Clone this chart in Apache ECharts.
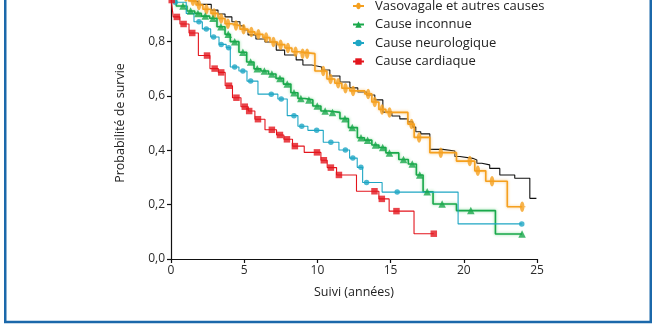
<!DOCTYPE html>
<html>
<head>
<meta charset="utf-8">
<script src="https://cdn.jsdelivr.net/npm/echarts@6/dist/echarts.min.js"></script>
<style>
  html, body { margin: 0; padding: 0; background: #fff; overflow: hidden; }
  body { width: 657px; height: 336px; position: relative; }
  /* the plot runs up past the top edge, so the canvas starts above the page */
  #chart { position: absolute; left: 0; top: -20px; width: 657px; height: 356px; }
</style>
</head>
<body>
<div id="chart"></div>
<script>
// Kaplan-Meier survival by syncope cause: [time in years, survival after the step]
const totalSteps = [[0,1],[0.07,0.985],[0.48,0.971],[0.96,0.956],[1.5,0.947],[1.84,0.936],[2.75,0.915],[3.21,0.901],[3.69,0.89],[4.16,0.872],[4.71,0.857],[4.98,0.842],[5.26,0.824],[5.8,0.809],[6.42,0.798],[7.19,0.768],[7.76,0.75],[8.55,0.732],[9.01,0.713],[9.62,0.706],[10.29,0.695],[10.85,0.673],[11.54,0.651],[12.22,0.629],[12.76,0.614],[13.36,0.603],[13.92,0.585],[14.47,0.54],[15.09,0.526],[15.63,0.515],[16.18,0.504],[16.52,0.485],[16.72,0.468],[17.06,0.46],[17.68,0.403],[18.57,0.397],[19.39,0.377],[19.73,0.37],[20.61,0.364],[20.89,0.352],[21.23,0.346],[21.77,0.333],[22.46,0.309],[23.48,0.297],[24.51,0.223],[24.96,0.223]];

const vasoSteps = [[0,1],[0.25,0.985],[0.7,0.965],[1.2,0.949],[1.71,0.934],[2.18,0.918],[2.73,0.903],[3.21,0.884],[3.69,0.865],[4.16,0.858],[4.71,0.845],[5.26,0.835],[5.73,0.826],[6.28,0.814],[6.76,0.798],[7.27,0.788],[7.78,0.776],[8.26,0.762],[8.74,0.755],[9.83,0.691],[10.65,0.662],[11.19,0.646],[11.67,0.628],[12.22,0.618],[13.24,0.607],[13.72,0.577],[14.2,0.55],[14.68,0.539],[16.18,0.496],[16.61,0.447],[17.68,0.391],[19.5,0.36],[20.75,0.324],[21.5,0.286],[22.97,0.192],[23.99,0.192]];
const vasoCensored = [1.02,1.5,1.91,2.42,2.94,3.43,3.89,4.44,4.96,5.49,5.97,6.5,7.0,7.49,7.99,8.51,8.99,9.3,10.4,10.9,11.42,11.92,12.44,13.47,13.92,14.42,14.93,16.43,16.95,18.43,20.41,20.96,21.93,23.99];

const unknownSteps = [[0,1],[0.36,0.93],[1.09,0.912],[1.62,0.903],[2.07,0.893],[2.64,0.885],[3.14,0.854],[3.69,0.826],[4.05,0.799],[4.64,0.76],[5.17,0.724],[5.67,0.699],[6.14,0.691],[6.66,0.68],[7.17,0.664],[7.68,0.643],[8.19,0.611],[8.67,0.59],[9.15,0.585],[9.69,0.5625],[10.24,0.544],[10.78,0.539],[11.54,0.516],[12.12,0.483],[12.73,0.446],[13.21,0.437],[13.72,0.419],[14.2,0.41],[14.68,0.39],[15.56,0.366],[16.21,0.349],[16.76,0.309],[17.22,0.247],[17.9,0.202],[19.5,0.178],[22.16,0.092],[23.98,0.092]];
const unknownCensored = [0.82,1.34,1.84,2.34,2.87,3.41,3.91,4.35,4.91,5.44,5.89,6.38,6.89,7.44,7.94,8.4,8.87,9.42,9.99,10.53,11.03,11.88,12.38,12.98,13.43,13.97,14.46,14.92,15.88,16.48,16.99,17.5,18.52,20.48,23.98];

const neuroSteps = [[0,1],[0.14,0.944],[1.04,0.903],[1.57,0.872],[2.14,0.846],[2.71,0.816],[3.28,0.789],[3.77,0.777],[4.05,0.706],[4.64,0.691],[5.19,0.654],[5.94,0.606],[7.3,0.588],[7.94,0.527],[8.67,0.488],[9.35,0.473],[10.4,0.429],[11.47,0.401],[12.2,0.371],[12.72,0.337],[13.09,0.281],[14.42,0.246],[19.61,0.129],[23.96,0.129]];
const neuroCensored = [0.29,1.91,2.41,2.91,3.43,3.94,4.35,4.91,5.44,6.85,7.53,8.4,8.93,9.95,10.92,11.91,12.42,12.97,13.36,15.45,23.96];

const cardiacSteps = [[0,1],[0.02,0.952],[0.15,0.89],[0.61,0.864],[1.23,0.831],[1.87,0.748],[2.66,0.7],[3.23,0.686],[3.7,0.637],[4.2,0.593],[4.78,0.56],[5.28,0.544],[5.73,0.514],[6.42,0.475],[7.21,0.456],[7.71,0.44],[8.3,0.415],[9.1,0.392],[10.24,0.363],[10.67,0.336],[11.31,0.309],[12.67,0.249],[14.2,0.221],[14.9,0.176],[16.6,0.093],[17.95,0.093]];
const cardiacCensored = [0.05,0.4,0.86,1.45,2.46,2.98,3.43,3.96,4.47,5.04,5.34,5.94,6.89,7.44,7.92,8.46,9.97,10.44,10.92,11.47,13.9,14.4,15.4,17.95];

const seriesNames = ['Vasovagale et autres causes', 'Cause inconnue', 'Cause neurologique', 'Cause cardiaque'];
const xTicks = [0, 5, 10, 15, 20, 25];
const yTicks = [0, 0.2, 0.4, 0.6, 0.8, 1.0];

// survival level of a step curve at time t
function levelAt(steps, t) {
  let v = steps[0][1];
  for (const [s, val] of steps) { if (s <= t) v = val; else break; }
  return v;
}
const marks = (steps, times) => times.map(t => [t, levelAt(steps, t)]);

// upright oval crossed by a short horizontal bar
const ovalCross = 'path://M5,0 C9.6,0 9.6,20 5,20 C0.4,20 0.4,0 5,0 Z M0,9.2 L10,9.2 L10,10.8 L0,10.8 Z';

function kmLine(name, steps, color, width, symbol, size, glow) {
  return {
    name, type: 'line', step: 'end', data: steps,
    showSymbol: false, symbol, symbolSize: size,
    itemStyle: { color },
    lineStyle: glow
      ? { color, width, shadowColor: glow, shadowBlur: 3 }
      : { color, width },
    emphasis: { disabled: true }, silent: true, z: 2
  };
}
function kmMarks(name, steps, times, color, symbol, size) {
  return {
    name: name + ' (censure)', type: 'scatter', data: marks(steps, times),
    symbol, symbolSize: size, itemStyle: { color },
    emphasis: { disabled: true }, silent: true, z: 3
  };
}

const labelFont = { fontFamily: 'Open Sans', fontSize: 12, color: '#2a2a2a' };

const option = {
  animation: false,
  backgroundColor: '#fff',
  grid: { left: 171, right: 120, top: 7, bottom: 77, containLabel: false },
  xAxis: {
    type: 'value', min: 0, max: 25, interval: 5,
    name: 'Suivi (années)', nameLocation: 'middle', nameGap: 27,
    nameTextStyle: { fontFamily: 'Open Sans', fontSize: 12.5, color: '#222' },
    axisLine: { lineStyle: { color: '#111', width: 1.2 } },
    axisTick: { length: 4, lineStyle: { color: '#111', width: 1.2 } },
    axisLabel: Object.assign({ margin: 6, formatter: v => xTicks.includes(v) ? String(v) : '' }, labelFont),
    splitLine: { show: false }
  },
  yAxis: {
    type: 'value', min: 0, max: 1, interval: 0.2,
    name: 'Probabilité de survie', nameLocation: 'middle', nameGap: 44, nameRotate: 90,
    nameTextStyle: { fontFamily: 'Open Sans', fontSize: 12.5, color: '#222' },
    axisLine: { lineStyle: { color: '#111', width: 1.2 } },
    axisTick: { length: 4, lineStyle: { color: '#111', width: 1.2 } },
    axisLabel: Object.assign({ margin: 6, formatter: v => yTicks.some(t => Math.abs(t - v) < 1e-9) ? v.toFixed(1).replace('.', ',') : '' }, labelFont),
    splitLine: { show: false }
  },
  legend: {
    data: seriesNames, orient: 'vertical', left: 347, top: 14,
    itemWidth: 11, itemHeight: 8, itemGap: 4.5, selectedMode: false,
    textStyle: { fontFamily: 'Open Sans', fontSize: 13, color: '#222', lineHeight: 14, padding: [0, 0, 0, 6] }
  },
  graphic: [{
    type: 'rect', silent: true, z: 100,
    shape: { x: 5.25, y: 1, width: 645.5, height: 341 },
    style: { fill: 'none', stroke: '#1b68aa', lineWidth: 2.5 }
  }],
  series: [
    { name: 'Total', type: 'line', step: 'end', data: totalSteps, showSymbol: false,
      lineStyle: { color: '#111', width: 1.1 }, itemStyle: { color: '#111' }, silent: true, z: 1 },
    kmLine(seriesNames[0], vasoSteps, '#f5a01f', 1.6, ovalCross, [6, 10], 'rgba(250,190,100,0.9)'),
    kmLine(seriesNames[1], unknownSteps, '#19a84b', 1.6, 'triangle', 7, 'rgba(120,215,140,0.9)'),
    kmLine(seriesNames[2], neuroSteps, '#1ea6c4', 1.1, 'circle', 5),
    kmLine(seriesNames[3], cardiacSteps, '#e3151d', 1.1, 'rect', 6),
    kmMarks(seriesNames[0], vasoSteps, vasoCensored, '#f5a01f', ovalCross, [6.5, 10.5]),
    kmMarks(seriesNames[1], unknownSteps, unknownCensored, '#19a84b', 'triangle', 7.5),
    kmMarks(seriesNames[2], neuroSteps, neuroCensored, '#1ea6c4', 'circle', 5.5),
    kmMarks(seriesNames[3], cardiacSteps, cardiacCensored, '#e3151d', 'rect', 6.5)
  ]
};

const chart = echarts.init(document.getElementById('chart'), null, { renderer: 'canvas' });
chart.setOption(option);
</script>
</body>
</html>
